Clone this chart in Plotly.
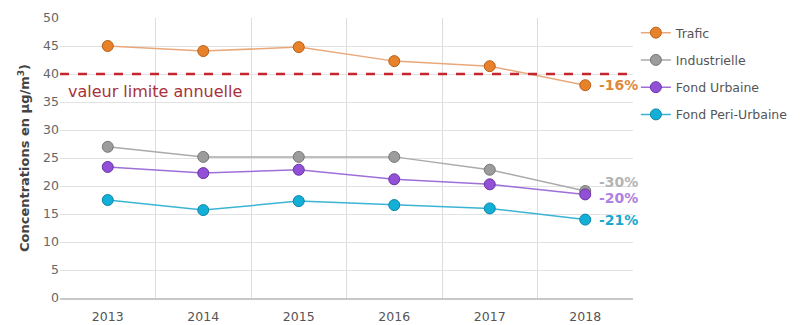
import plotly.graph_objects as go

years = ["2013", "2014", "2015", "2016", "2017", "2018"]
trafic = [45.0, 44.1, 44.8, 42.3, 41.4, 38.0]
industrielle = [27.0, 25.2, 25.2, 25.2, 22.9, 19.1]
fond_urbaine = [23.4, 22.3, 22.9, 21.2, 20.3, 18.5]
fond_peri = [17.5, 15.7, 17.3, 16.6, 16.0, 14.0]
series_names = ["Trafic", "Industrielle", "Fond Urbaine", "Fond Peri-Urbaine"]
end_labels = ["-16%", "-30%", "-20%", "-21%"]
limit_value = 40
limit_label = "valeur limite annuelle"
yticks = [0, 5, 10, 15, 20, 25, 30, 35, 40, 45, 50]

line_colors = ["#E8A97A", "#AAAAAA", "#9E6FD8", "#3BB4D4"]
marker_colors = ["#E7822B", "#9C9C9C", "#9150D6", "#13AFD6"]
marker_edges = ["#B8601A", "#777777", "#6A33A8", "#0C86A8"]
label_colors = ["#E0883A", "#B4B4B4", "#B080E0", "#17A8D0"]
label_offsets = [0, 1.6, -0.6, 0]

fig = go.Figure()
data = [trafic, industrielle, fond_urbaine, fond_peri]
last = len(years) - 1
for i, (name, vals) in enumerate(zip(series_names, data)):
    fig.add_trace(go.Scatter(
        x=years, y=vals, name=name, mode="lines+markers",
        line=dict(color=line_colors[i], width=1.5),
        marker=dict(size=11, color=marker_colors[i], line=dict(color=marker_edges[i], width=1)),
        legendgroup=name,
    ))
    fig.add_annotation(x=last, y=vals[-1] + label_offsets[i], text="<b>" + end_labels[i] + "</b>",
                       xref="x", yref="y",
                       showarrow=False, xanchor="left", xshift=12,
                       font=dict(size=14, color=label_colors[i], family="DejaVu Sans"))

fig.add_shape(type="line", xref="paper", yref="y", x0=0, x1=1, y0=limit_value, y1=limit_value,
              line=dict(color="#C4262E", width=2.5, dash="dash"))
fig.add_annotation(xref="paper", yref="y", x=0.01, y=limit_value - 1.0, text=limit_label,
                   showarrow=False, xanchor="left", yanchor="top",
                   font=dict(size=16, color="#A8323C", family="DejaVu Sans"))

fig.update_layout(
    width=800, height=325,
    margin=dict(l=60, r=167, t=18, b=27, autoexpand=False),
    paper_bgcolor="white", plot_bgcolor="white",
    font=dict(family="DejaVu Sans", size=12, color="#555555"),
    showlegend=True,
    legend=dict(x=1.005, y=1.0, xanchor="left", yanchor="top",
                font=dict(size=12.5, color="#555555"), tracegroupgap=8,
                bgcolor="rgba(0,0,0,0)"),
    xaxis=dict(type="category", tickson="boundaries", showgrid=True, gridcolor="#DDDDDD",
               gridwidth=1, ticks="", showline=True, linecolor="#C8C8C8", linewidth=2,
               ticklabelstandoff=6,
               tickfont=dict(size=12.5, color="#555555"), range=[-0.5, 5.5]),
    yaxis=dict(range=[0, 50], tickvals=yticks, showgrid=True, gridcolor="#E2E2E2",
               zeroline=False, ticks="", tickfont=dict(size=12.5, color="#666666"),
               title=dict(text="<b>Concentrations en µg/m<sup>3</sup>)</b>", standoff=10,
                          font=dict(size=13, color="#444444")),
               showline=False),
)

fig.write_html("out.html")
